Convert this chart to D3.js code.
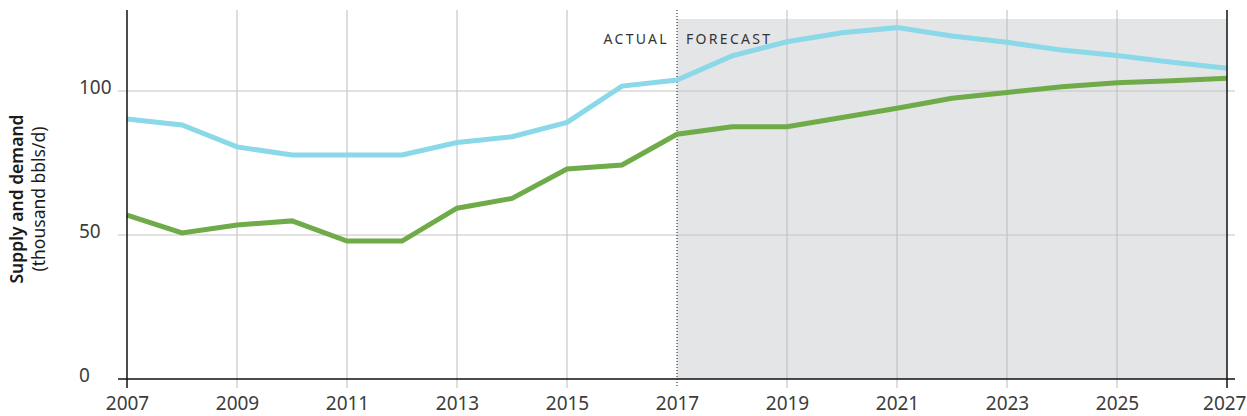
<!DOCTYPE html>
<html>
<head>
<meta charset="utf-8">
<script src="https://cdn.jsdelivr.net/npm/d3@7"></script>
<style>
body { margin: 0; background: #fff; }
svg { display: block; font-family: "Noto Sans", sans-serif; }
</style>
</head>
<body>
<svg id="chart"></svg>
<script>
var years = d3.range(2007, 2028);
var demand = [90.3, 88.2, 80.6, 77.8, 77.8, 77.8, 82.1, 84.1, 89.1, 101.7, 103.8,
  112.2, 117.1, 120.2, 122, 119.1, 116.9, 114.2, 112.3, 110, 107.9];
var supply = [56.9, 50.7, 53.5, 54.9, 47.9, 47.9, 59.3, 62.7, 72.9, 74.3, 85,
  87.6, 87.6, 90.8, 94, 97.5, 99.5, 101.5, 102.9, 103.6, 104.4];
var xTicks = [2007, 2009, 2011, 2013, 2015, 2017, 2019, 2021, 2023, 2025, 2027];
var yTicks = [0, 50, 100];
var forecastStart = 2017;

var width = 1247, height = 416;

var svg = d3.select("#chart")
  .attr("width", width)
  .attr("height", height);

// echelles
var x = d3.scaleLinear().domain([2007, 2027]).range([127, 1227]);
var y = d3.scaleLinear().domain([0, 125]).range([379, 19]);

// zone prevision
svg.append("rect")
  .attr("x", x(forecastStart))
  .attr("y", y(125))
  .attr("width", x(2027) - x(forecastStart))
  .attr("height", y(0) - y(125))
  .attr("fill", "#e4e5e7");

// grille verticale
svg.append("g").selectAll("line")
  .data(xTicks.filter(function(d){ return d != 2007 && d != 2027 && d != forecastStart; }))
  .enter().append("line")
  .attr("x1", function(d){ return x(d); })
  .attr("x2", function(d){ return x(d); })
  .attr("y1", 10)
  .attr("y2", 388)
  .attr("stroke", "#bcbcbc")
  .attr("stroke-width", 1);

// grille horizontale
svg.append("g").selectAll("line")
  .data(yTicks.filter(function(d){ return d > 0; }))
  .enter().append("line")
  .attr("x1", 118)
  .attr("x2", 1235)
  .attr("y1", function(d){ return y(d); })
  .attr("y2", function(d){ return y(d); })
  .attr("stroke", "#c4c4c4")
  .attr("stroke-width", 1);

// separation actual / forecast
svg.append("line")
  .attr("x1", x(forecastStart)).attr("x2", x(forecastStart))
  .attr("y1", 10).attr("y2", 388)
  .attr("stroke", "#111")
  .attr("stroke-width", 1)
  .attr("stroke-dasharray", "1,2");

svg.append("text")
  .attr("x", x(forecastStart) - 8)
  .attr("y", 44)
  .attr("text-anchor", "end")
  .attr("font-size", 14)
  .attr("letter-spacing", "2.3px")
  .attr("fill", "#333")
  .text("ACTUAL");

svg.append("text")
  .attr("x", x(forecastStart) + 9)
  .attr("y", 44)
  .attr("font-size", 14)
  .attr("letter-spacing", "2.3px")
  .attr("fill", "#333")
  .text("FORECAST");

// courbes
var line = d3.line()
  .x(function(d, i){ return x(years[i]); })
  .y(function(d){ return y(d); });

svg.append("path")
  .datum(demand)
  .attr("d", line)
  .attr("fill", "none")
  .attr("stroke", "#8ad8e8")
  .attr("stroke-width", 5);

svg.append("path")
  .datum(supply)
  .attr("d", line)
  .attr("fill", "none")
  .attr("stroke", "#70ab4a")
  .attr("stroke-width", 5);

// axes
svg.append("line")
  .attr("x1", 118).attr("x2", 1235)
  .attr("y1", y(0)).attr("y2", y(0))
  .attr("stroke", "#111").attr("stroke-width", 1.5);

svg.append("g").selectAll("line")
  .data([2007, 2027])
  .enter().append("line")
  .attr("x1", function(d){ return x(d); })
  .attr("x2", function(d){ return x(d); })
  .attr("y1", 10)
  .attr("y2", 388)
  .attr("stroke", "#111")
  .attr("stroke-width", 1.5);

var xAxis = d3.axisBottom(x)
  .tickValues(xTicks)
  .tickFormat(d3.format("d"))
  .tickSize(0)
  .tickPadding(0);

var gx = svg.append("g")
  .attr("transform", "translate(0,393)")
  .call(xAxis);
gx.select(".domain").remove();
gx.selectAll("text")
  .attr("dy", "0.9em")
  .attr("font-size", 19)
  .attr("font-family", "Noto Sans, sans-serif")
  .attr("fill", "#3c3c3c");
// le dernier label colle au bord droit
gx.selectAll(".tick")
  .filter(function(d){ return d == 2027; })
  .select("text")
  .attr("text-anchor", "end")
  .attr("x", width - 1 - x(2027));

svg.append("g").selectAll("text")
  .data(yTicks)
  .enter().append("text")
  .attr("x", 79)
  .attr("y", function(d){ return y(d) + 3; })
  .attr("font-size", 19)
  .attr("fill", "#3c3c3c")
  .text(function(d){ return d; });

// titre axe y
var title = svg.append("text")
  .attr("transform", "translate(0,199) rotate(-90)")
  .attr("text-anchor", "middle")
  .attr("fill", "#1a1a1a");
title.append("tspan")
  .attr("x", 0).attr("y", 23)
  .attr("font-size", 17.5)
  .attr("font-weight", 600)
  .text("Supply and demand");
title.append("tspan")
  .attr("x", 0).attr("y", 45)
  .attr("font-size", 17.5)
  .text("(thousand bbls/d)");
</script>
</body>
</html>
